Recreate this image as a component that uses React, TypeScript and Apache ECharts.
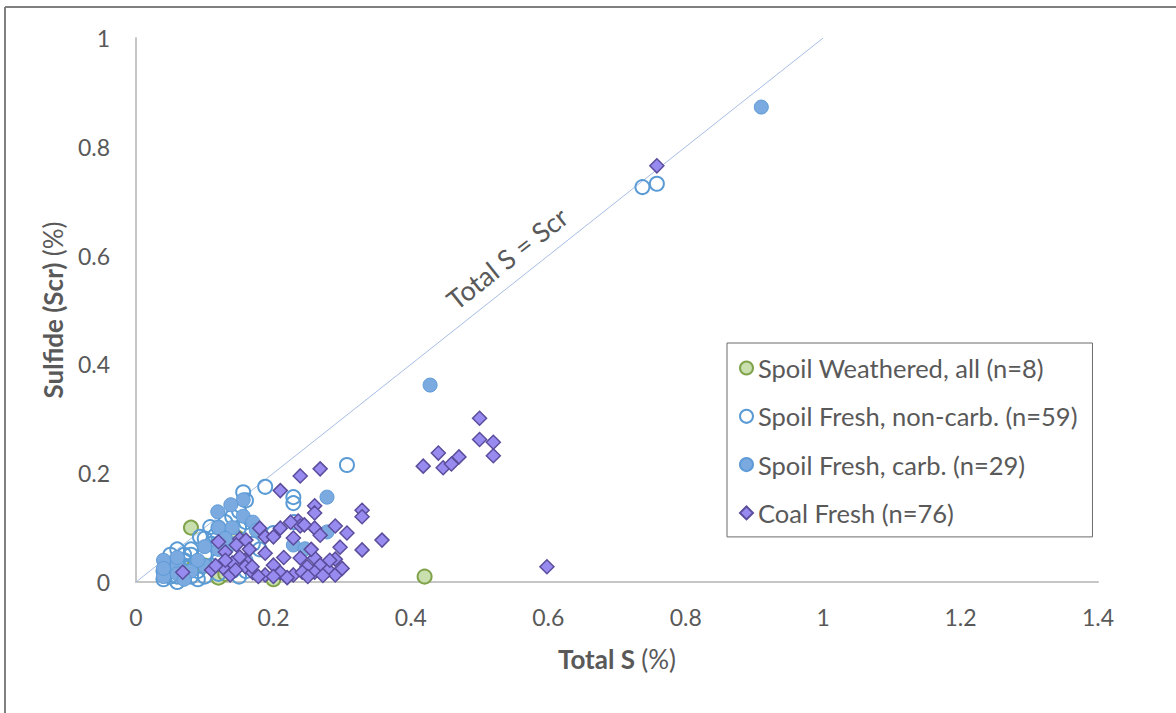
import React, { useEffect, useRef } from "react";
import * as echarts from "echarts";

// ---- data (Total S %, Sulfide Scr %) ----
const weathered: [number, number][] = [
  [0.08, 0.1], [0.42, 0.01], [0.083, 0.026], [0.12, 0.008], [0.147, 0.082],
  [0.2, 0.005], [0.13, 0.015], [0.1, 0.03],
];

const freshNonCarb: [number, number][] = [
  [0.737, 0.726], [0.758, 0.732], [0.307, 0.215], [0.188, 0.175], [0.229, 0.156],
  [0.229, 0.145], [0.156, 0.165], [0.16, 0.15], [0.108, 0.101], [0.12, 0.1],
  [0.093, 0.083], [0.1, 0.08], [0.13, 0.11], [0.14, 0.12], [0.15, 0.13],
  [0.115, 0.085], [0.08, 0.06], [0.07, 0.05], [0.06, 0.06], [0.05, 0.05],
  [0.06, 0.04], [0.07, 0.04], [0.08, 0.05], [0.05, 0.03], [0.06, 0.03],
  [0.07, 0.03], [0.05, 0.02], [0.06, 0.02], [0.07, 0.02], [0.08, 0.03],
  [0.09, 0.02], [0.05, 0.01], [0.06, 0.01], [0.07, 0.01], [0.08, 0.01],
  [0.09, 0.005], [0.1, 0.01], [0.04, 0.005], [0.06, 0.0], [0.04, 0.02],
  [0.11, 0.07], [0.12, 0.07], [0.13, 0.06], [0.1, 0.05], [0.14, 0.09],
  [0.15, 0.1], [0.16, 0.11], [0.12, 0.04], [0.13, 0.03], [0.14, 0.02],
  [0.15, 0.01], [0.11, 0.03], [0.17, 0.07], [0.2, 0.09], [0.18, 0.06],
  [0.16, 0.02], [0.14, 0.05], [0.23, 0.11], [0.12, 0.015],
];

const freshCarb: [number, number][] = [
  [0.91, 0.873], [0.428, 0.362], [0.278, 0.156], [0.156, 0.151], [0.156, 0.121],
  [0.138, 0.142], [0.119, 0.129], [0.229, 0.068], [0.246, 0.061], [0.278, 0.092],
  [0.04, 0.04], [0.04, 0.01], [0.04, 0.025], [0.06, 0.03], [0.06, 0.015],
  [0.06, 0.045], [0.1, 0.065], [0.1, 0.03], [0.12, 0.06], [0.14, 0.07],
  [0.16, 0.04], [0.17, 0.11], [0.14, 0.1], [0.08, 0.02], [0.12, 0.1],
  [0.175, 0.095], [0.07, 0.005], [0.13, 0.08], [0.09, 0.04],
];

const coalFresh: [number, number][] = [
  [0.758, 0.765], [0.598, 0.028], [0.5, 0.301], [0.5, 0.262], [0.52, 0.257],
  [0.52, 0.232], [0.44, 0.237], [0.418, 0.213], [0.447, 0.21], [0.459, 0.217],
  [0.47, 0.23], [0.268, 0.208], [0.239, 0.195], [0.21, 0.168], [0.26, 0.14],
  [0.26, 0.127], [0.329, 0.132], [0.329, 0.12], [0.236, 0.112], [0.239, 0.103],
  [0.18, 0.099], [0.21, 0.099], [0.26, 0.099], [0.29, 0.103], [0.188, 0.083],
  [0.2, 0.083], [0.229, 0.081], [0.268, 0.086], [0.307, 0.09], [0.297, 0.064],
  [0.329, 0.059], [0.188, 0.053], [0.239, 0.044], [0.26, 0.044], [0.29, 0.042],
  [0.159, 0.04], [0.159, 0.028], [0.2, 0.031], [0.249, 0.028], [0.268, 0.031],
  [0.28, 0.022], [0.17, 0.017], [0.188, 0.013], [0.21, 0.017], [0.229, 0.013],
  [0.242, 0.018], [0.26, 0.018], [0.29, 0.013], [0.358, 0.077], [0.12, 0.074],
  [0.13, 0.055], [0.151, 0.079], [0.16, 0.077], [0.068, 0.018], [0.11, 0.022],
  [0.127, 0.026], [0.14, 0.035], [0.151, 0.046], [0.137, 0.013], [0.169, 0.028],
  [0.145, 0.022], [0.178, 0.01], [0.22, 0.008], [0.25, 0.01], [0.272, 0.012],
  [0.215, 0.045], [0.225, 0.11], [0.245, 0.105], [0.116, 0.03], [0.13, 0.04],
  [0.165, 0.06], [0.282, 0.04], [0.3, 0.025], [0.2, 0.01], [0.146, 0.068],
  [0.255, 0.06],
];

const oneToOne: [number, number][] = [[0, 0], [1, 1]];

const seriesNames = [
  "Spoil Weathered, all (n=8)",
  "Spoil Fresh, non-carb. (n=59)",
  "Spoil Fresh, carb. (n=29)",
  "Coal Fresh (n=76)",
];

const FONT = "Lato, 'Open Sans', sans-serif";
const GREY = "#595959";

export default function App() {
  const ref = useRef<HTMLDivElement>(null);

  useEffect(() => {
    if (!ref.current) return;
    const chart = echarts.init(ref.current, undefined, { renderer: "svg" });
    const fmt = (v: number) => String(+Number(v).toFixed(1));
    const titleRich = {
      b: { fontSize: 26, fontWeight: "bold", color: GREY, fontFamily: FONT },
      n: { fontSize: 26, color: GREY, fontFamily: FONT },
    };
    chart.setOption({
      animation: false,
      backgroundColor: "#ffffff",
      textStyle: { fontFamily: FONT },
      grid: { left: 136, right: 78, top: 38, bottom: 131, containLabel: false },
      xAxis: {
        type: "value",
        min: 0,
        max: 1.4,
        interval: 0.2,
        splitLine: { show: false },
        axisTick: { show: false },
        axisLine: { lineStyle: { color: "#c6c6c6", width: 2 } },
        axisLabel: { color: GREY, fontSize: 23, fontFamily: FONT, margin: 23, formatter: fmt },
        name: "{b|Total S }{n|(%)}",
        nameLocation: "middle",
        nameGap: 64,
        nameTextStyle: { rich: titleRich },
      },
      yAxis: {
        type: "value",
        min: 0,
        max: 1,
        interval: 0.2,
        splitLine: { show: false },
        axisTick: { show: false },
        axisLine: { show: true, lineStyle: { color: "#c6c6c6", width: 2 } },
        axisLabel: { color: GREY, fontSize: 23, fontFamily: FONT, margin: 26, formatter: fmt },
        name: "{b|Sulfide (Scr) }{n|(%)}",
        nameLocation: "middle",
        nameGap: 70,
        nameRotate: 90,
        nameTextStyle: { rich: titleRich },
      },
      legend: {
        orient: "vertical",
        left: 727,
        top: 343,
        data: seriesNames,
        borderColor: "#6b6b6b",
        borderWidth: 1,
        padding: [12, 15, 11, 12],
        itemWidth: 13,
        itemHeight: 13,
        itemGap: 22.3,
        textStyle: { color: GREY, fontSize: 25.5, fontFamily: FONT, lineHeight: 26 },
      },
      graphic: [
        { type: "line", shape: { x1: 5, y1: 7, x2: 1176, y2: 7 }, style: { stroke: "#808080", lineWidth: 2 } },
        { type: "line", shape: { x1: 5, y1: 7, x2: 5, y2: 713 }, style: { stroke: "#808080", lineWidth: 2 } },
        {
          type: "text",
          x: 507,
          y: 258,
          rotation: 0.67,
          style: {
            text: "Total S = Scr",
            fill: GREY,
            font: `27px Lato, 'Open Sans', sans-serif`,
            align: "center",
            verticalAlign: "middle",
          },
        },
      ],
      series: [
        {
          type: "line",
          name: "1:1",
          data: oneToOne,
          symbol: "none",
          silent: true,
          lineStyle: { color: "#a7bde4", width: 1 },
          z: 1,
        },
        {
          type: "scatter",
          name: seriesNames[0],
          data: weathered,
          symbol: "circle",
          symbolSize: 14,
          itemStyle: { color: "#c9e0ae", borderColor: "#7fa24a", borderWidth: 2, opacity: 1 },
          z: 2,
        },
        {
          type: "scatter",
          name: seriesNames[1],
          data: freshNonCarb,
          symbol: "circle",
          symbolSize: 14,
          itemStyle: { color: "rgba(255,255,255,0)", borderColor: "#5b9bd5", borderWidth: 2, opacity: 1 },
          z: 3,
        },
        {
          type: "scatter",
          name: seriesNames[2],
          data: freshCarb,
          symbol: "circle",
          symbolSize: 14,
          itemStyle: { color: "#7baae0", borderColor: "#5f9bd8", borderWidth: 1, opacity: 1 },
          z: 4,
        },
        {
          type: "scatter",
          name: seriesNames[3],
          data: coalFresh,
          symbol: "diamond",
          symbolSize: 14,
          itemStyle: { color: "#978bef", borderColor: "#5b4d9c", borderWidth: 1.5, opacity: 1 },
          z: 5,
        },
      ],
    });
    return () => chart.dispose();
  }, []);

  return (
    <div
      ref={ref}
      style={{ position: "absolute", left: 0, top: 0, width: 1176, height: 713 }}
    />
  );
}
